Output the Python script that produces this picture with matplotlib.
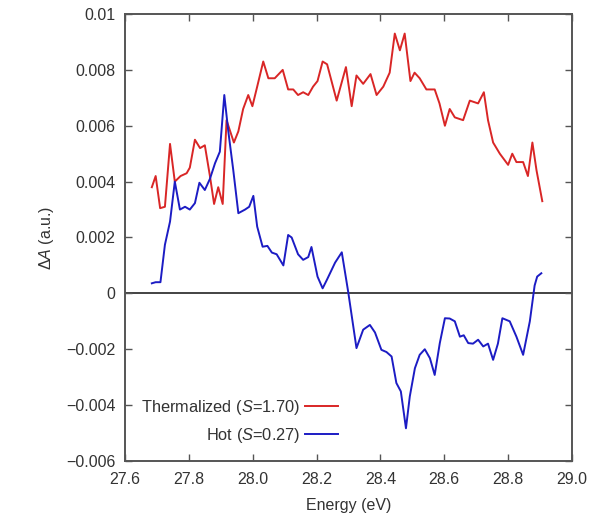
import matplotlib
matplotlib.use('Agg')
import matplotlib.pyplot as plt
from matplotlib.ticker import FuncFormatter, MultipleLocator

plt.rcParams['font.family'] = ['Liberation Sans', 'DejaVu Sans']
plt.rcParams['mathtext.fontset'] = 'custom'
plt.rcParams['mathtext.rm'] = 'Liberation Sans'
plt.rcParams['mathtext.it'] = 'Liberation Sans:italic'

# thermalized spectrum
e_therm = [27.684, 27.696, 27.710, 27.725, 27.741, 27.756, 27.774, 27.793, 27.803,
           27.819, 27.835, 27.850, 27.866, 27.879, 27.892, 27.906, 27.918, 27.941,
           27.955, 27.970, 27.986, 27.999, 28.014, 28.033, 28.049, 28.069, 28.094,
           28.111, 28.127, 28.142, 28.158, 28.174, 28.189, 28.203, 28.219, 28.233,
           28.263, 28.292, 28.310, 28.325, 28.346, 28.369, 28.388, 28.409, 28.429,
           28.445, 28.461, 28.476, 28.494, 28.507, 28.523, 28.544, 28.570, 28.585,
           28.602, 28.617, 28.633, 28.659, 28.680, 28.706, 28.724, 28.737, 28.753,
           28.774, 28.800, 28.813, 28.826, 28.847, 28.862, 28.876, 28.889, 28.907]
da_therm = [0.0038, 0.0042, 0.00305, 0.0031, 0.00535, 0.0040, 0.0042, 0.0043, 0.0045,
            0.0055, 0.0052, 0.0053, 0.0042, 0.0032, 0.0038, 0.0032, 0.0062, 0.0054,
            0.0058, 0.0066, 0.0071, 0.0067, 0.0074, 0.0083, 0.0077, 0.0077, 0.0080,
            0.0073, 0.0073, 0.0071, 0.0072, 0.0071, 0.0074, 0.0076, 0.0083, 0.0082,
            0.0069, 0.0081, 0.0067, 0.0078, 0.0075, 0.00785, 0.0071, 0.0074, 0.0079,
            0.0093, 0.0087, 0.0093, 0.0076, 0.0079, 0.0077, 0.0073, 0.0073, 0.0068,
            0.0060, 0.0066, 0.0063, 0.0062, 0.0069, 0.0068, 0.0072, 0.0062, 0.0054,
            0.0050, 0.0046, 0.0050, 0.0047, 0.0047, 0.0042, 0.0054, 0.0044, 0.0033]

# hot spectrum
e_hot = [27.684, 27.696, 27.711, 27.725, 27.741, 27.756, 27.772, 27.788, 27.803,
         27.819, 27.833, 27.850, 27.866, 27.882, 27.897, 27.911, 27.923, 27.939,
         27.955, 27.976, 27.989, 28.002, 28.014, 28.031, 28.046, 28.060, 28.075,
         28.096, 28.111, 28.122, 28.142, 28.158, 28.174, 28.184, 28.203, 28.219,
         28.233, 28.258, 28.279, 28.299, 28.325, 28.346, 28.367, 28.383, 28.403,
         28.419, 28.435, 28.450, 28.464, 28.480, 28.492, 28.508, 28.523, 28.539,
         28.555, 28.570, 28.586, 28.602, 28.617, 28.633, 28.649, 28.661, 28.675,
         28.690, 28.706, 28.722, 28.737, 28.753, 28.768, 28.782, 28.805, 28.826,
         28.847, 28.868, 28.883, 28.891, 28.904]
da_hot = [0.00036, 0.0004, 0.0004, 0.00174, 0.00257, 0.0040, 0.0030, 0.0031, 0.0030,
          0.00323, 0.00396, 0.0037, 0.0041, 0.00466, 0.00507, 0.0071, 0.00585, 0.00442,
          0.00287, 0.0030, 0.0031, 0.00349, 0.00239, 0.00167, 0.0017, 0.00146, 0.0014,
          0.0010, 0.00209, 0.0020, 0.0014, 0.0012, 0.0013, 0.00166, 0.0006, 0.00018,
          0.0005, 0.0011, 0.00147, 0.00006, -0.00196, -0.0013, -0.00113, -0.0014, -0.00202,
          -0.0021, -0.00226, -0.00321, -0.00351, -0.00483, -0.00369, -0.00268, -0.0022, -0.0020,
          -0.00232, -0.00292, -0.00178, -0.00089, -0.0009, -0.0010, -0.00155, -0.0015, -0.00178,
          -0.0018, -0.00166, -0.0019, -0.0018, -0.00238, -0.0018, -0.00089, -0.0010, -0.00155,
          -0.0022, -0.0010, 0.00028, 0.0006, 0.00072]

fig = plt.figure(figsize=(5.95, 5.21), dpi=100)
ax = fig.add_axes([0.2101, 0.1152, 0.7512, 0.8579])

ax.axhline(0, color='#222222', lw=1.2, zorder=1)
ax.plot(e_therm, da_therm, color='#d92626', lw=1.4, label=r'Thermalized ($S$=1.70)')
ax.plot(e_hot, da_hot, color='#1c1cc4', lw=1.4, label=r'Hot ($S$=0.27)')

ax.set_xlim(27.6, 29.0)
ax.set_ylim(-0.006, 0.01)
ax.xaxis.set_major_locator(MultipleLocator(0.2))
ax.yaxis.set_major_locator(MultipleLocator(0.002))
ax.xaxis.set_major_formatter(FuncFormatter(lambda v, p: '%.1f' % v))
ax.yaxis.set_major_formatter(FuncFormatter(
    lambda v, p: ('%g' % round(v, 4)).replace('-', '\u2212') if abs(v) > 1e-9 else '0'))

ax.tick_params(direction='in', top=True, right=True, length=5, width=1,
               color='#555555', labelsize=11.5, labelcolor='#333333')
ax.tick_params(axis='x', pad=8)
ax.tick_params(axis='y', pad=7)
for s in ax.spines.values():
    s.set_color('#555555')
    s.set_linewidth(1.4)

ax.set_xlabel('Energy (eV)', fontsize=11.5, color='#333333', labelpad=8)
ax.set_ylabel(r'$\Delta \it{A}$ (a.u.)', fontsize=11.5, color='#333333', labelpad=7)

leg = ax.legend(loc='lower left', bbox_to_anchor=(0.0, 0.0), markerfirst=False,
                frameon=False, fontsize=11.8, handlelength=2.0, handletextpad=0.3,
                labelspacing=0.55, borderaxespad=0.6)
for t in leg.get_texts():
    t.set_color('#333333')

fig.savefig('out.png', dpi=100)
